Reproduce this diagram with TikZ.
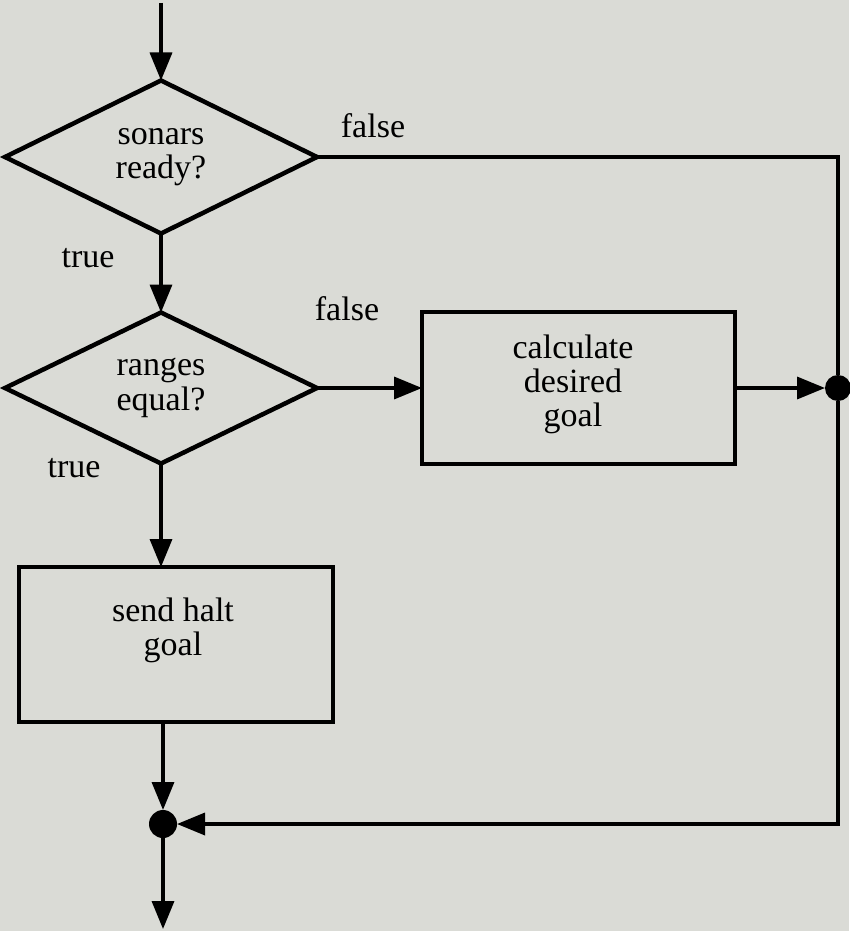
\documentclass[tikz,border=0pt]{standalone}
\usepackage{fontspec}
\setmainfont{Liberation Serif}
\usetikzlibrary{shapes.geometric,arrows.meta}
\definecolor{paper}{RGB}{218,219,214}
\begin{document}
\begin{tikzpicture}[x=1pt,y=-1pt,
  every node/.style={font=\fontsize{34}{34}\selectfont, align=center, inner sep=0pt, outer sep=0pt},
  decision/.style={draw, shape=diamond, line width=4.5pt, minimum width=312pt, minimum height=153pt},
  process/.style={draw, rectangle, line width=4pt},
  junction/.style={circle, fill=black, draw=none, minimum size=26pt},
  flow/.style={line width=3.5pt, -{Triangle[length=28pt,width=22pt]}},
  plain/.style={line width=3.5pt}
]
\fill[paper] (0,0) rectangle (849,931);
\useasboundingbox (0,0) rectangle (849,931);

\coordinate (start) at (161,3);
\coordinate (finish) at (163,929);

\node[decision] (d1) at (161,157) {sonars\\ready?};
\node[decision, minimum height=151pt] (d2) at (161,388) {ranges\\[1pt]equal?};
\node[process, minimum width=313pt, minimum height=152pt] (r2) at (578.5,388) {};
\node (r2t) at (573,384) {calculate\\desired\\goal};
\node[process, minimum width=314pt, minimum height=155pt] (r1) at (176,644.5) {};
\node (r1t) at (173,630) {send halt\\goal};
\node[junction] (j1) at (838,388) {};
\node[junction, minimum size=28pt] (j2) at (163,824) {};

\node (f1) at (373,126) {false};
\node (t1) at (88,258) {true};
\node (f2) at (347,309) {false};
\node (t2) at (74,468) {true};

\draw[flow] (start) -- (d1.north);
\draw[flow] (d1.south) -- (d2.north);
\draw[plain] (d1.east) -| (j1.north);
\draw[flow] (j1.south) |- (j2.east);
\draw[flow] (d2.east) -- (r2.west);
\draw[flow] (r2.east) -- (j1.west);
\draw[flow] (d2.south) -- (d2.south |- r1.north);
\draw[flow] (r1.south -| j2) -- (j2.north);
\draw[flow] (j2.south) -- (finish);
\end{tikzpicture}
\end{document}
